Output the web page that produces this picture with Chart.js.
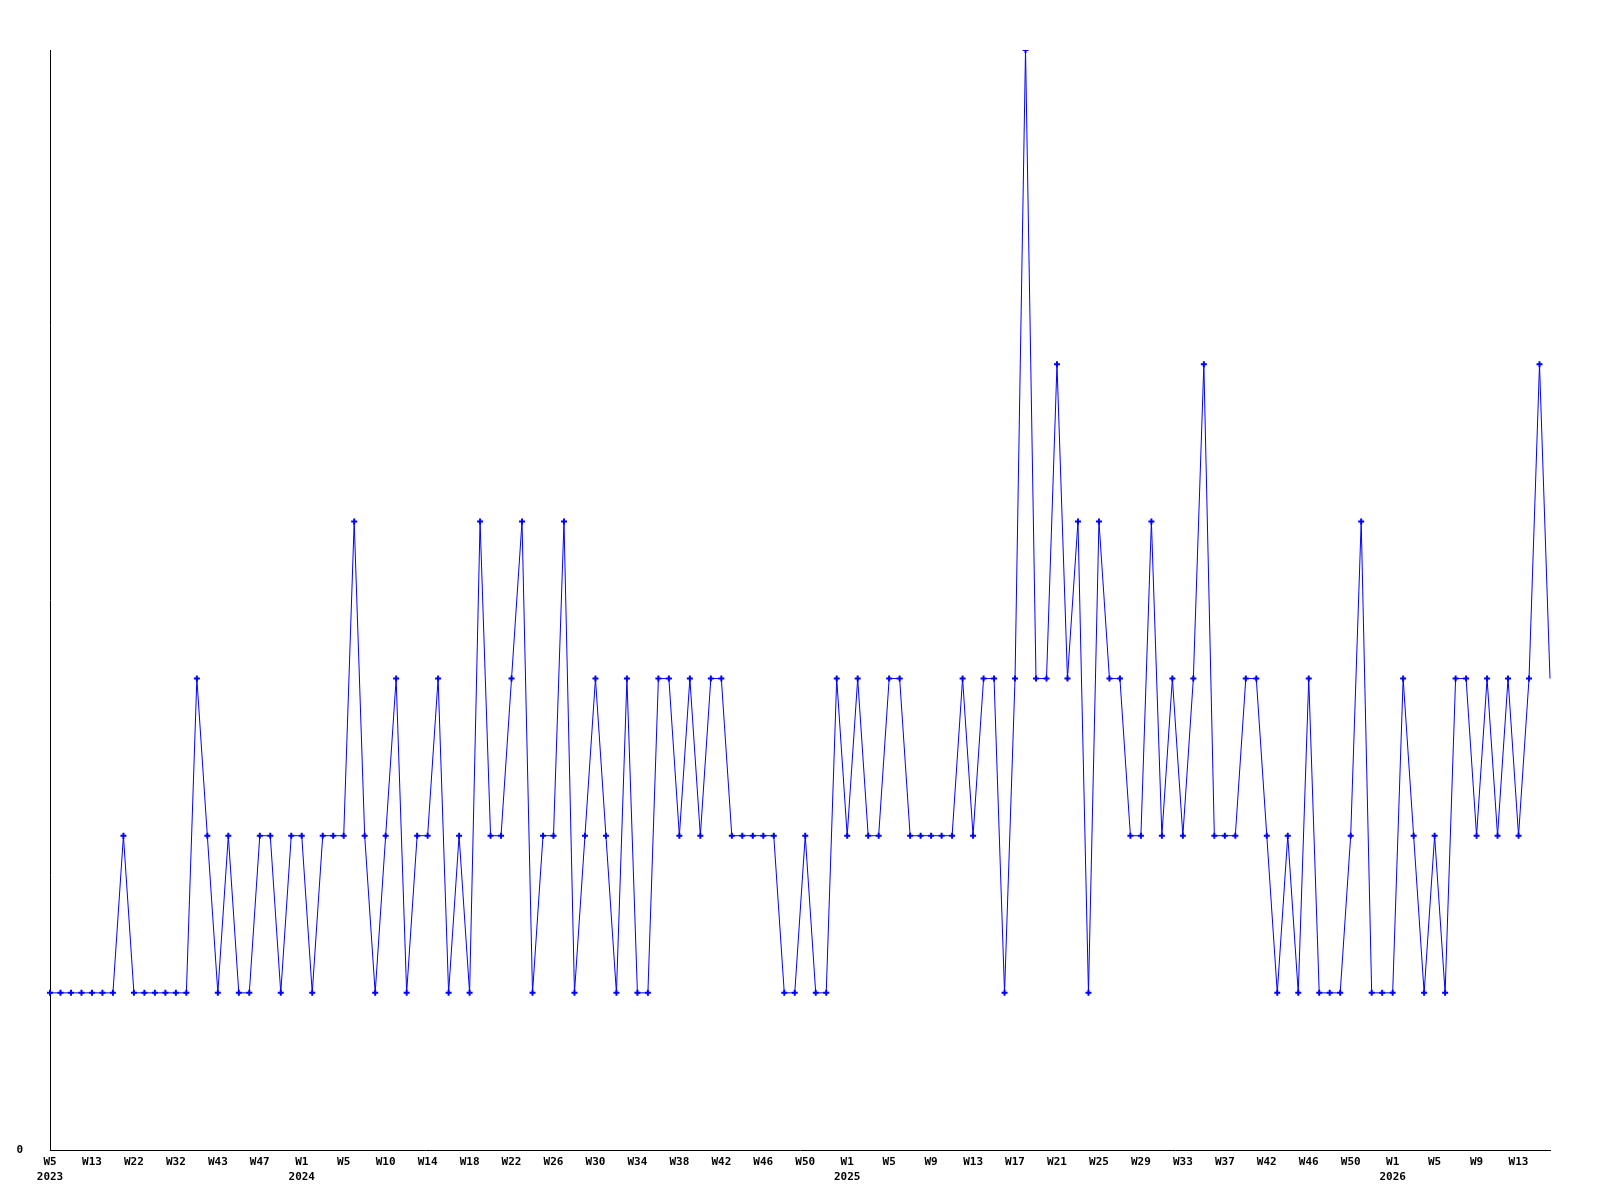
<!DOCTYPE html>
<html lang="en">
<head>
    <meta charset="UTF-8">
    <title>Weekly count</title>
    <script src="https://cdn.jsdelivr.net/npm/chart.js"></script>
    <style>
        body, html { margin: 0; padding: 0; background: #fff; }
        #chartCanvas { display: block; }
    </style>
</head>
<body>
    <canvas id="chartCanvas" width="1600" height="1200"></canvas>

    <script>
        // week labels, one per point (only every 4th one is shown on the axis)
        const weeks2023 = ['W5', 'W7', 'W9', 'W11', 'W13', 'W15', 'W17', 'W20', 'W22', 'W24', 'W27', 'W30',
                           'W32', 'W35', 'W38', 'W40', 'W43', 'W44', 'W45', 'W46', 'W47', 'W49', 'W51', 'W52'];
        const weeks2024 = ['W1', 'W2', 'W3', 'W4', 'W5', 'W6', 'W7', 'W9', 'W10', 'W11', 'W12', 'W13', 'W14',
                           'W15', 'W16', 'W17', 'W18', 'W19', 'W20', 'W21', 'W22', 'W23', 'W24', 'W25', 'W26',
                           'W27', 'W28', 'W29', 'W30', 'W31', 'W32', 'W33', 'W34', 'W35', 'W36', 'W37', 'W38',
                           'W39', 'W40', 'W41', 'W42', 'W43', 'W44', 'W45', 'W46', 'W47', 'W48', 'W49', 'W50',
                           'W51', 'W52', 'W53'];
        const weeks2025 = ['W1', 'W2', 'W3', 'W4', 'W5', 'W6', 'W7', 'W8', 'W9', 'W10', 'W11', 'W12', 'W13',
                           'W14', 'W15', 'W16', 'W17', 'W18', 'W19', 'W20', 'W21', 'W22', 'W23', 'W24', 'W25',
                           'W26', 'W27', 'W28', 'W29', 'W30', 'W31', 'W32', 'W33', 'W34', 'W35', 'W36', 'W37',
                           'W38', 'W39', 'W41', 'W42', 'W43', 'W44', 'W45', 'W46', 'W47', 'W48', 'W49', 'W50',
                           'W51', 'W52', 'W53'];
        const weeks2026 = ['W1', 'W2', 'W3', 'W4', 'W5', 'W6', 'W7', 'W8', 'W9', 'W10', 'W11', 'W12', 'W13',
                           'W14', 'W15', 'W16'];

        const counts2023 = [1, 1, 1, 1, 1, 1, 1, 2, 1, 1, 1, 1, 1, 1, 3, 2, 1, 2, 1, 1, 2, 2, 1, 2];
        const counts2024 = [2, 1, 2, 2, 2, 4, 2, 1, 2, 3, 1, 2, 2, 3, 1, 2, 1, 4, 2, 2, 3, 4, 1, 2, 2, 4,
                            1, 2, 3, 2, 1, 3, 1, 1, 3, 3, 2, 3, 2, 3, 3, 2, 2, 2, 2, 2, 1, 1, 2, 1, 1, 3];
        const counts2025 = [2, 3, 2, 2, 3, 3, 2, 2, 2, 2, 2, 3, 2, 3, 3, 1, 3, 7, 3, 3, 5, 3, 4, 1, 4, 3,
                            3, 2, 2, 4, 2, 3, 2, 3, 5, 2, 2, 2, 3, 3, 2, 1, 2, 1, 3, 1, 1, 1, 2, 4, 1, 1];
        const counts2026 = [1, 3, 2, 1, 2, 1, 3, 3, 2, 3, 2, 3, 2, 3, 5, 3];

        const yearGroups = [
            { year: '2023', weeks: weeks2023, counts: counts2023 },
            { year: '2024', weeks: weeks2024, counts: counts2024 },
            { year: '2025', weeks: weeks2025, counts: counts2025 },
            { year: '2026', weeks: weeks2026, counts: counts2026 }
        ];

        const labels = [];
        const values = [];
        const yearStart = {};
        yearGroups.forEach(g => {
            yearStart[labels.length] = g.year;
            g.weeks.forEach((w, i) => { labels.push(w); values.push(g.counts[i]); });
        });
        const lastIndex = values.length - 1;

        const axisFont = { family: '"DejaVu Sans Mono", monospace', size: 11, weight: 'bold', lineHeight: 1.35 };

        const ctx = document.getElementById('chartCanvas').getContext('2d');
        new Chart(ctx, {
            type: 'line',
            data: {
                labels: labels,
                datasets: [{
                    data: values,
                    borderColor: '#0000ff',
                    backgroundColor: '#0000ff',
                    borderWidth: 1,
                    tension: 0,
                    fill: false,
                    pointStyle: 'cross',
                    // the current (unfinished) week has no marker
                    pointRadius: c => c.dataIndex === lastIndex ? 0 : 3,
                    pointBorderWidth: 2,
                    pointBorderColor: '#0000ff'
                }]
            },
            options: {
                responsive: false,
                animation: false,
                layout: { padding: { top: 50, right: 50, left: 0, bottom: 0 } },
                plugins: { legend: { display: false }, tooltip: { enabled: false } },
                scales: {
                    x: {
                        type: 'category',
                        offset: false,
                        grid: { display: false, drawTicks: false },
                        border: { display: true, color: '#000', width: 1 },
                        ticks: {
                            autoSkip: false,
                            maxRotation: 0,
                            minRotation: 0,
                            padding: 5,
                            color: '#000',
                            font: axisFont,
                            callback: function (value, index) {
                                if (index % 4 !== 0) return '';
                                const w = this.getLabelForValue(value);
                                return yearStart[index] ? [w, yearStart[index]] : w;
                            }
                        },
                        afterFit: s => { s.height = 50; }
                    },
                    y: {
                        min: 0,
                        max: 7,
                        grid: { display: false, drawTicks: false },
                        border: { display: true, color: '#000', width: 1 },
                        ticks: {
                            stepSize: 1,
                            padding: 27,
                            color: '#000',
                            font: axisFont,
                            callback: v => v === 0 ? '0' : ''
                        },
                        afterFit: s => { s.width = 50; }
                    }
                }
            }
        });
    </script>
</body>
</html>
